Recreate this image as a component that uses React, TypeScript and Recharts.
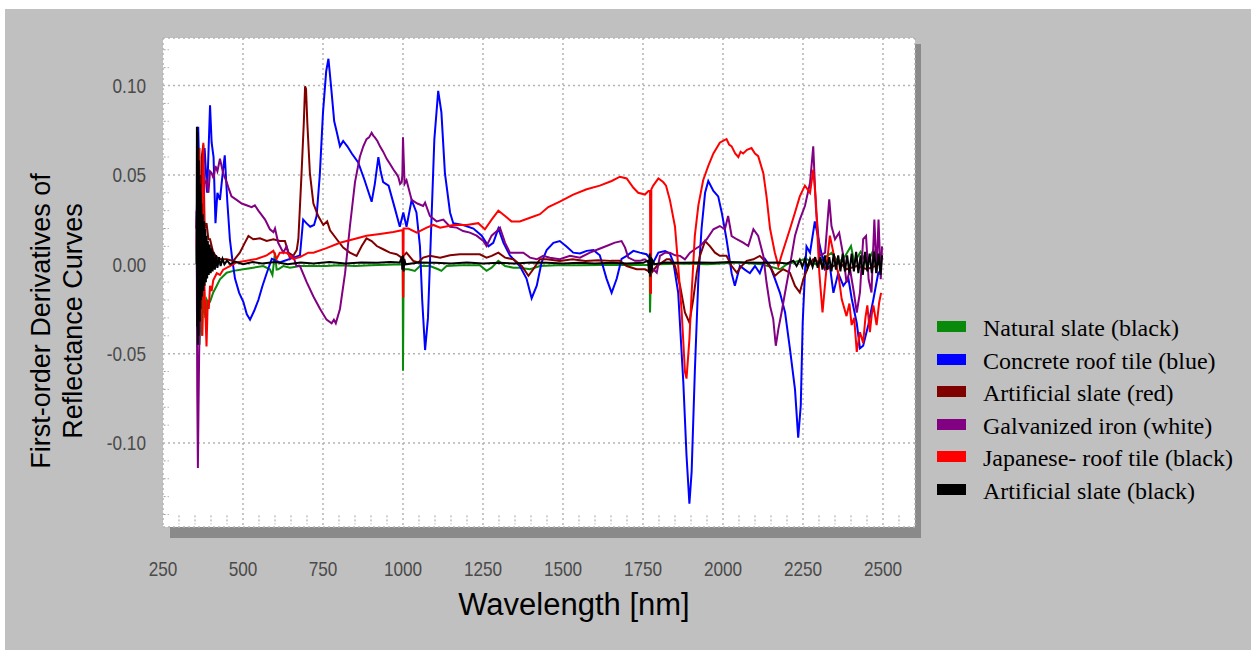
import { LineChart, Line, XAxis, YAxis, CartesianGrid, ReferenceLine } from "recharts"

type Pt = [number, number]

const xTicks = [250, 500, 750, 1000, 1250, 1500, 1750, 2000, 2250, 2500]
const yTicks = [-0.1, -0.05, 0, 0.05, 0.1]
const xMinorTicks = [300, 350, 400, 450, 550, 600, 650, 700, 800, 850, 900, 950, 1050, 1100, 1150, 1200, 1300, 1350, 1400, 1450, 1550, 1600, 1650, 1700, 1800, 1850, 1900, 1950, 2050, 2100, 2150, 2200, 2300, 2350, 2400, 2450, 2550]
const yMinorTicks = [-0.14, -0.13, -0.12, -0.11, -0.09, -0.08, -0.07, -0.06, -0.04, -0.03, -0.02, -0.01, 0.01, 0.02, 0.03, 0.04, 0.06, 0.07, 0.08, 0.09, 0.11, 0.12]

const naturalSlate: Pt[] = [
  [355, 0.01], [358, -0.03], [361, 0.0], [364, -0.045], [368, -0.02], [372, -0.04], [377, -0.015], [382, -0.03],
  [387, -0.02], [392, -0.022], [397, -0.021], [407, -0.0158], [418, -0.012], [428, -0.0084], [449, -0.0047],
  [470, -0.0037], [501, -0.0028], [532, -0.0019], [563, -0.001], [584, -0.0028], [592, -0.006], [600, 0.0065],
  [605, -0.003], [610, -0.0028], [626, -0.001], [647, -0.0019], [678, -0.001], [720, -0.0009], [760, -0.001],
  [800, -0.0005], [850, -0.0009], [900, -0.0005], [950, -0.0003], [999, 0.0], [1000, -0.0596], [1001, -0.03],
  [1002, -0.0028], [1017, -0.0028], [1037, -0.0037], [1053, -0.001], [1084, -0.001], [1110, -0.0028],
  [1120, -0.0037], [1136, -0.001], [1180, -0.0005], [1240, -0.0005], [1261, -0.0037], [1277, -0.0019],
  [1298, 0.0019], [1319, -0.001], [1345, -0.0019], [1365, -0.0019], [1397, -0.0028], [1428, -0.001],
  [1480, -0.0005], [1550, -0.0005], [1620, -0.0004], [1700, -0.0004], [1771, -0.0003], [1772, -0.027],
  [1774, -0.01], [1776, 0.0], [1800, 0.0], [1880, 0.0005], [1950, 0.0], [2050, 0.001], [2120, 0.0],
  [2178, -0.0028], [2200, 0.0], [2260, 0.003], [2290, 0.0], [2320, 0.004], [2340, 0.0065], [2360, 0.001],
  [2380, 0.004], [2400, 0.0102], [2410, 0.001], [2430, 0.007], [2450, 0.0], [2470, 0.008], [2490, 0.0], [2497, 0.005],
]

const concreteTile: Pt[] = [
  [355, 0.02], [360, 0.077], [366, 0.03], [372, 0.05], [380, 0.065], [388, 0.04], [397, 0.089], [402, 0.068],
  [408, 0.06], [414, 0.023], [420, 0.04], [428, 0.036], [436, 0.05], [443, 0.061], [451, 0.035], [459, 0.014],
  [467, 0.002], [475, -0.008], [488, -0.016], [501, -0.021], [512, -0.028], [522, -0.031], [535, -0.026],
  [548, -0.02], [561, -0.012], [574, -0.005], [590, 0.003], [603, 0.002], [615, 0.001], [630, 0.002],
  [647, 0.003], [662, 0.004], [678, 0.005], [688, 0.025], [698, 0.023], [710, 0.021], [722, 0.022],
  [730, 0.027], [740, 0.05], [750, 0.085], [760, 0.108], [767, 0.115], [775, 0.1], [785, 0.08], [793, 0.074],
  [803, 0.066], [813, 0.069], [826, 0.066], [840, 0.062], [860, 0.057], [880, 0.047], [902, 0.035],
  [912, 0.045], [923, 0.06], [930, 0.052], [938, 0.046], [955, 0.044], [975, 0.031], [990, 0.021],
  [1001, 0.029], [1011, 0.021], [1027, 0.036], [1042, 0.029], [1053, 0.01], [1060, -0.02], [1069, -0.048],
  [1078, -0.03], [1088, 0.02], [1098, 0.07], [1110, 0.097], [1120, 0.085], [1131, 0.051], [1147, 0.029],
  [1157, 0.023], [1188, 0.022], [1220, 0.02], [1246, 0.016], [1267, 0.01], [1282, 0.012], [1298, 0.02],
  [1314, 0.012], [1334, 0.005], [1365, -0.001], [1386, -0.008], [1402, -0.019], [1418, -0.012], [1433, 0.001],
  [1449, 0.008], [1470, 0.012], [1490, 0.013], [1511, 0.01], [1532, 0.0065], [1553, 0.006], [1574, 0.0075],
  [1595, 0.008], [1615, 0.005], [1636, -0.008], [1652, -0.016], [1668, -0.008], [1683, 0.003], [1699, 0.0047],
  [1720, 0.0075], [1740, 0.0065], [1761, 0.0056], [1782, 0.001], [1798, 0.0065], [1819, 0.0074], [1834, 0.006],
  [1845, 0.001], [1860, -0.016], [1876, -0.066], [1886, -0.107], [1895, -0.134], [1902, -0.116], [1912, -0.06],
  [1923, -0.008], [1933, 0.02], [1944, 0.04], [1954, 0.0466], [1970, 0.041], [1985, 0.038], [1996, 0.029],
  [2011, 0.014], [2027, -0.005], [2037, -0.012], [2053, -0.001], [2068, -0.003], [2084, -0.005], [2100, -0.001],
  [2115, -0.005], [2131, 0.003], [2147, -0.001], [2162, -0.008], [2178, -0.016], [2194, -0.027], [2209, -0.047],
  [2225, -0.07], [2235, -0.097], [2243, -0.079], [2249, -0.033], [2256, -0.005], [2261, 0.01], [2272, 0.0065],
  [2287, 0.024], [2303, 0.01], [2319, -0.003], [2334, -0.001], [2345, -0.016], [2360, -0.005], [2376, -0.012],
  [2392, -0.008], [2402, -0.019], [2418, -0.033], [2428, -0.047], [2438, -0.0456], [2454, -0.034],
  [2470, -0.0196], [2485, -0.005], [2495, -0.003],
]

const artificialRed: Pt[] = [
  [355, 0.02], [358, 0.04], [361, -0.02], [364, 0.05], [367, 0.0], [371, 0.06], [376, 0.067], [380, 0.02],
  [386, 0.023], [392, 0.014], [397, 0.014], [407, 0.0065], [418, 0.004], [428, 0.003], [449, 0.0028],
  [470, 0.0019], [490, 0.0065], [506, 0.0121], [517, 0.0158], [532, 0.014], [553, 0.0145], [574, 0.013],
  [595, 0.014], [615, 0.013], [631, 0.013], [642, 0.0065], [657, 0.0047], [668, 0.008], [673, 0.014],
  [683, 0.051], [690, 0.079], [694, 0.0996], [697, 0.098], [701, 0.079], [709, 0.051], [720, 0.034],
  [735, 0.027], [751, 0.022], [763, 0.024], [772, 0.019], [793, 0.014], [813, 0.0093], [834, 0.0065],
  [855, 0.0047], [871, 0.0102], [886, 0.0145], [902, 0.013], [918, 0.0102], [938, 0.0084], [959, 0.0065],
  [980, 0.0056], [996, 0.0037], [1011, 0.0065], [1032, 0.0019], [1048, 0.001], [1063, 0.0037], [1084, 0.0047],
  [1116, 0.0037], [1147, 0.005], [1178, 0.0056], [1209, 0.0056], [1240, 0.0056], [1261, 0.0037], [1277, 0.0047],
  [1298, 0.0065], [1319, 0.0037], [1345, 0.0028], [1371, -0.001], [1392, -0.0065], [1407, -0.0028],
  [1428, 0.0028], [1449, 0.0028], [1490, 0.0019], [1530, 0.0028], [1570, 0.0019], [1610, 0.0023],
  [1650, 0.0019], [1678, 0.0019], [1699, -0.001], [1730, -0.0028], [1756, -0.0028], [1777, -0.0047],
  [1793, -0.001], [1824, 0.0028], [1834, 0.0028], [1850, -0.001], [1866, -0.0121], [1881, -0.027],
  [1895, -0.0326], [1907, -0.0196], [1918, -0.0047], [1928, 0.0047], [1944, 0.013], [1959, 0.0102],
  [1975, 0.0065], [1990, 0.0047], [2011, 0.0047], [2027, -0.001], [2043, -0.0047], [2058, -0.001],
  [2074, 0.0019], [2095, 0.0028], [2115, 0.0047], [2136, 0.001], [2152, -0.0028], [2162, -0.0065],
  [2173, -0.0047], [2188, -0.0028], [2209, -0.0047], [2225, -0.0121], [2240, -0.0158], [2251, -0.0084],
  [2267, -0.001], [2282, 0.0028], [2303, 0.001], [2324, -0.0028], [2345, -0.001], [2365, 0.001],
  [2386, -0.0028], [2418, -0.001], [2450, -0.0028], [2475, -0.001], [2495, 0.001],
]

const galvanizedIron: Pt[] = [
  [355, 0.03], [357, -0.07], [359, -0.114], [361, -0.08], [363, -0.05], [366, -0.02], [370, 0.0], [375, 0.03],
  [380, 0.045], [386, 0.047], [392, 0.04], [397, 0.052], [402, 0.051], [408, 0.048], [414, 0.055], [420, 0.052],
  [428, 0.059], [433, 0.055], [438, 0.051], [449, 0.046], [456, 0.042], [464, 0.038], [480, 0.036], [496, 0.034],
  [511, 0.033], [527, 0.032], [537, 0.033], [548, 0.03], [569, 0.025], [584, 0.0196], [595, 0.018], [600, 0.02],
  [610, 0.012], [626, 0.0065], [636, 0.01], [647, 0.003], [657, 0.0047], [667, -0.001], [678, -0.001],
  [699, -0.01], [720, -0.018], [741, -0.025], [761, -0.031], [777, -0.033], [784, -0.031], [790, -0.033],
  [803, -0.025], [819, -0.005], [834, 0.021], [850, 0.046], [865, 0.06], [876, 0.066], [886, 0.07], [894, 0.071],
  [902, 0.0736], [907, 0.072], [912, 0.071], [920, 0.069], [928, 0.066], [938, 0.063], [949, 0.059], [960, 0.056],
  [970, 0.053], [978, 0.051], [985, 0.049], [991, 0.045], [996, 0.046], [998, 0.05],
  [1000, 0.071], [1002, 0.06], [1005, 0.045], [1011, 0.047], [1027, 0.036], [1045, 0.034], [1063, 0.0326],
  [1069, 0.0345], [1084, 0.027], [1105, 0.024], [1126, 0.025], [1147, 0.021], [1168, 0.0205], [1188, 0.0186],
  [1209, 0.0177], [1230, 0.016], [1251, 0.013], [1261, 0.0102], [1277, 0.016], [1290, 0.018], [1303, 0.0205],
  [1319, 0.012], [1334, 0.0065], [1355, 0.0065], [1376, 0.0065], [1397, 0.0037], [1418, 0.0028],
  [1438, 0.0047], [1459, 0.0037], [1490, 0.0028], [1522, 0.0047], [1553, 0.0037], [1584, 0.0065],
  [1610, 0.0084], [1636, 0.0102], [1662, 0.0121], [1683, 0.013], [1694, 0.0093], [1704, 0.0037],
  [1725, 0.0019], [1740, 0.0019], [1756, 0.0028], [1767, 0.001], [1782, -0.0028], [1793, -0.0047],
  [1803, 0.0047], [1819, 0.0065], [1834, 0.0065], [1850, 0.005], [1866, 0.0047], [1881, 0.0028],
  [1897, 0.0065], [1912, 0.0084], [1928, 0.0102], [1949, 0.014], [1970, 0.0196], [1990, 0.0214],
  [2006, 0.0196], [2016, 0.027], [2027, 0.0158], [2043, 0.014], [2063, 0.0121], [2079, 0.0102],
  [2095, 0.0196], [2110, 0.0158], [2126, 0.0047], [2136, -0.0102], [2147, -0.0233], [2157, -0.0307],
  [2165, -0.0456], [2173, -0.0363], [2183, -0.027], [2194, -0.0158], [2209, -0.001], [2225, 0.016],
  [2240, 0.025], [2256, 0.0326], [2272, 0.0456], [2282, 0.066], [2290, 0.0326], [2303, 0.0047],
  [2319, 0.0065], [2332, 0.0363], [2339, 0.0214], [2350, 0.014], [2363, 0.0177], [2376, 0.0047],
  [2386, -0.0102], [2397, -0.0028], [2409, -0.0158], [2418, -0.027], [2428, -0.0158], [2438, 0.014],
  [2447, 0.0158], [2455, -0.0084], [2464, -0.0158], [2473, 0.025], [2480, -0.0047], [2486, 0.025],
  [2493, -0.0084], [2497, 0.01],
]

const japaneseTile: Pt[] = [
  [355, 0.01], [358, 0.05], [361, -0.03], [364, 0.065], [367, -0.02], [370, 0.03], [373, -0.04], [376, 0.068],
  [379, -0.01], [383, -0.03], [386, -0.046], [390, -0.02], [393, -0.025], [397, -0.012], [402, -0.015],
  [407, -0.009], [418, -0.005], [428, -0.006], [438, -0.003], [459, -0.001], [480, 0.001], [511, 0.002],
  [542, 0.003], [574, 0.005], [595, 0.0075], [605, 0.003], [615, 0.0065], [636, 0.0065], [657, 0.003],
  [678, 0.004], [704, 0.0065], [720, 0.0065], [761, 0.009], [803, 0.012], [845, 0.014], [886, 0.016],
  [928, 0.017], [970, 0.018], [996, 0.019], [999, 0.019], [1000, -0.018], [1001, -0.018], [1002, 0.02],
  [1017, 0.02], [1043, 0.0177], [1074, 0.0205], [1095, 0.022], [1116, 0.0205], [1157, 0.022], [1199, 0.022],
  [1235, 0.023], [1256, 0.0196], [1277, 0.025], [1298, 0.03], [1319, 0.027], [1339, 0.024], [1365, 0.024],
  [1397, 0.026], [1428, 0.028], [1454, 0.032], [1490, 0.035], [1532, 0.039], [1574, 0.042], [1615, 0.044],
  [1652, 0.0466], [1678, 0.049], [1699, 0.048], [1720, 0.0428], [1735, 0.04], [1756, 0.039], [1767, 0.041],
  [1772, 0.041], [1773, -0.016], [1775, -0.016], [1776, 0.042], [1782, 0.044], [1798, 0.048], [1813, 0.046],
  [1822, 0.044], [1834, 0.036], [1850, 0.021], [1860, -0.001], [1871, -0.027], [1881, -0.06], [1886, -0.064],
  [1895, -0.042], [1902, -0.016], [1912, 0.016], [1923, 0.033], [1938, 0.047], [1954, 0.055], [1970, 0.062],
  [1990, 0.068], [2000, 0.069], [2011, 0.07], [2019, 0.067], [2027, 0.066], [2038, 0.062], [2048, 0.06],
  [2055, 0.063], [2063, 0.062], [2075, 0.064], [2089, 0.065], [2100, 0.062], [2110, 0.0605],
  [2126, 0.051], [2136, 0.038], [2147, 0.02], [2162, 0.0065], [2173, -0.001], [2183, 0.005], [2199, 0.014],
  [2209, 0.0196], [2225, 0.029], [2240, 0.038], [2256, 0.044], [2272, 0.04], [2282, 0.053], [2290, 0.036],
  [2301, -0.005], [2311, -0.027], [2324, -0.001], [2334, 0.016], [2345, 0.0065], [2360, -0.005],
  [2371, -0.0196], [2386, -0.029], [2395, -0.022], [2402, -0.034], [2410, -0.03], [2418, -0.049],
  [2428, -0.038], [2438, -0.044], [2445, -0.03], [2451, -0.023], [2459, -0.038], [2465, -0.028],
  [2470, -0.023], [2480, -0.034], [2488, -0.0214], [2494, -0.016],
]

const artificialBlack: Pt[] = [
  [355, 0.0], [356, 0.077], [357, -0.035], [358, 0.074], [359, -0.045], [360, 0.065], [361, -0.04], [362, 0.058],
  [363, -0.03], [364, 0.05], [365, -0.032], [366, 0.045], [367, -0.025], [368, 0.04], [369, -0.02], [370, 0.034],
  [372, -0.018], [374, 0.028], [376, -0.015], [378, 0.024], [380, -0.012], [382, 0.02], [384, -0.01],
  [386, 0.016], [388, -0.008], [390, 0.013], [393, -0.006], [396, 0.011], [399, -0.005], [402, 0.009],
  [405, -0.004], [408, 0.007], [412, -0.003], [416, 0.005], [420, -0.002], [425, 0.004], [430, -0.001],
  [436, 0.003], [442, 0.0], [450, 0.002], [460, 0.0], [475, 0.0015], [500, 0.0], [530, 0.0012], [560, 0.0005],
  [600, 0.0012], [640, 0.0], [680, 0.001], [720, 0.0005], [770, 0.0012], [820, 0.0005], [870, 0.001],
  [920, 0.0008], [960, 0.0012], [990, 0.001], [996, 0.004], [998, -0.003], [1000, 0.005], [1002, -0.004],
  [1004, 0.003], [1008, 0.0], [1050, 0.001], [1100, 0.0008], [1150, 0.0005], [1200, 0.001], [1250, 0.0005],
  [1300, 0.0008], [1350, 0.0005], [1400, 0.001], [1450, 0.0008], [1500, 0.0005], [1550, 0.0008],
  [1600, 0.0005], [1650, 0.0008], [1700, 0.0005], [1750, 0.0008], [1766, 0.002], [1769, -0.005],
  [1771, 0.006], [1773, -0.007], [1775, 0.004], [1777, -0.004], [1780, 0.002], [1786, 0.0], [1820, 0.001],
  [1870, 0.0008], [1920, 0.001], [1970, 0.0008], [2020, 0.0012], [2070, 0.001], [2120, 0.0008],
  [2170, 0.001], [2200, 0.0005], [2220, 0.002], [2230, -0.001], [2240, 0.0025], [2248, -0.0015],
  [2256, 0.003], [2264, -0.002], [2272, 0.003], [2280, -0.0015], [2288, 0.004], [2296, -0.002],
  [2304, 0.004], [2311, -0.003], [2318, 0.005], [2325, -0.003], [2332, 0.004], [2339, -0.004],
  [2346, 0.006], [2353, -0.003], [2360, 0.005], [2367, -0.004], [2374, 0.006], [2381, -0.004],
  [2388, 0.005], [2395, -0.005], [2402, 0.006], [2409, -0.004], [2416, 0.007], [2423, -0.005],
  [2430, 0.005], [2437, -0.006], [2444, 0.007], [2451, -0.004], [2458, 0.006], [2465, -0.005],
  [2472, 0.007], [2479, -0.005], [2486, 0.006], [2492, -0.006], [2497, 0.005],
]

const seriesNames = [
  "Natural slate (black)",
  "Concrete roof tile (blue)",
  "Artificial slate (red)",
  "Galvanized iron (white)",
  "Japanese- roof tile (black)",
  "Artificial slate (black)",
]
const seriesColors = ["#0a8a0a", "#0000ff", "#800000", "#820082", "#ff0000", "#000000"]
const seriesData = [naturalSlate, concreteTile, artificialRed, galvanizedIron, japaneseTile, artificialBlack]

const toRows = (pts: Pt[]) => pts.map(([x, y]) => ({ x, y }))

const tickFont = "'Liberation Sans', Arial, sans-serif"

function XTick(props: any) {
  const { x, payload } = props
  return (
    <text
      transform={`translate(${x} 576) scale(0.86 1)`}
      textAnchor="middle"
      fontFamily={tickFont}
      fontSize={20}
      fill="#4a4a4a"
    >
      {payload.value}
    </text>
  )
}

function YTick(props: any) {
  const { y, payload } = props
  return (
    <text
      transform={`translate(146 ${y + 7.5}) scale(0.86 1)`}
      textAnchor="end"
      fontFamily={tickFont}
      fontSize={20}
      fill="#4a4a4a"
    >
      {Number(payload.value).toFixed(2)}
    </text>
  )
}

export default function App() {
  return (
    <div style={{ position: "absolute", left: 0, top: 0, width: 1251, height: 650, background: "#ffffff" }}>
      <div style={{ position: "absolute", left: 5, top: 9, width: 1246, height: 641, background: "#c0c0c0" }} />
      <div style={{ position: "absolute", left: 170, top: 44, width: 751, height: 494, background: "#8a8a8a" }} />
      <div style={{ position: "absolute", left: 163, top: 38, width: 752, height: 489, background: "#ffffff" }} />
      <div style={{ position: "absolute", left: 0, top: 0 }}>
        <LineChart width={1251} height={650} margin={{ top: 38, right: 336, bottom: 93, left: 103 }}>
          <CartesianGrid stroke="#b4b4b4" strokeDasharray="2 3" strokeWidth={1.5} />
          <XAxis
            type="number"
            dataKey="x"
            domain={[250, 2600]}
            ticks={xTicks}
            allowDataOverflow
            axisLine={false}
            tickLine={false}
            height={30}
            tick={<XTick />}
            label={{
              content: () => (
                <text x={574} y={615} textAnchor="middle" fontFamily="'Liberation Sans', Arial, sans-serif" fontSize={31} fill="#000">
                  Wavelength [nm]
                </text>
              ),
            }}
          />
          <YAxis
            type="number"
            domain={[-0.147, 0.1266]}
            ticks={yTicks}
            allowDataOverflow
            axisLine={false}
            tickLine={false}
            width={60}
            tick={<YTick />}
            label={{
              content: () => (
                <g fontFamily="'Liberation Sans', Arial, sans-serif" fontSize={27} fill="#000">
                  <text x={50} y={321} textAnchor="middle" transform="rotate(-90 50 321)">
                    First-order Derivatives of
                  </text>
                  <text x={82} y={321} textAnchor="middle" transform="rotate(-90 82 321)">
                    Reflectance Curves
                  </text>
                </g>
              ),
            }}
          />
          {xMinorTicks.map((v) => (
            <ReferenceLine
              key={"xm" + v}
              segment={[{ x: v, y: -0.1405 }, { x: v, y: -0.1455 }]}
              stroke="#a0a0a0"
              strokeDasharray="2 2"
              ifOverflow="visible"
            />
          ))}
          {yMinorTicks.map((v) => (
            <ReferenceLine
              key={"ym" + v}
              segment={[{ x: 252, y: v }, { x: 268, y: v }]}
              stroke="#a0a0a0"
              strokeDasharray="2 2"
              ifOverflow="visible"
            />
          ))}
          {seriesData.map((pts, i) => (
            <Line
              key={seriesNames[i]}
              data={toRows(pts)}
              dataKey="y"
              name={seriesNames[i]}
              type="linear"
              stroke={seriesColors[i]}
              strokeWidth={2}
              dot={false}
              activeDot={false}
              isAnimationActive={false}
            />
          ))}
        </LineChart>
      </div>
      {seriesNames.map((name, i) => (
        <div key={name} style={{ position: "absolute", left: 937, top: 321 + i * 32.5, width: 29, height: 11, background: seriesColors[i] }} />
      ))}
      {seriesNames.map((name, i) => (
        <div
          key={"t" + name}
          style={{
            position: "absolute",
            left: 983,
            top: 314 + i * 32.5,
            fontFamily: "'Liberation Serif', 'Times New Roman', serif",
            fontSize: 24,
            lineHeight: "28px",
            color: "#000",
            whiteSpace: "nowrap",
          }}
        >
          {name}
        </div>
      ))}
    </div>
  )
}
